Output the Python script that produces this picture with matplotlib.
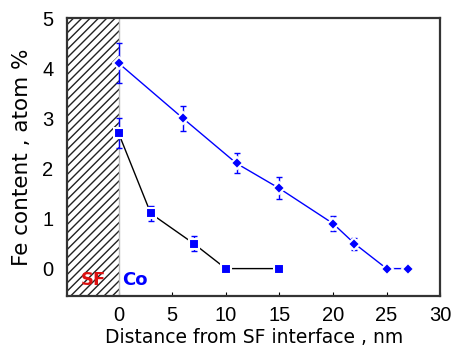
import matplotlib.pyplot as plt
from matplotlib.patches import Rectangle

plt.rcParams['font.family'] = ['DejaVu Sans']
plt.rcParams['hatch.linewidth'] = 1.0

# upper profile (blue line)
x1 = [0, 6, 11, 15, 20, 22, 25, 27]
y1 = [4.1, 3.0, 2.1, 1.6, 0.9, 0.5, 0.0, 0.0]
e1 = [0.4, 0.25, 0.2, 0.22, 0.15, 0.12, 0, 0]

# lower profile (black line)
x2 = [0, 3, 7, 10, 15]
y2 = [2.7, 1.1, 0.5, 0.0, 0.0]
e2 = [0.3, 0.15, 0.15, 0, 0]

fig = plt.figure(figsize=(4.51, 3.48), dpi=100)
ax = fig.add_axes([0.149, 0.149, 0.827, 0.799])

ax.add_patch(Rectangle((-4.8, -0.55), 4.8, 5.55, facecolor='white',
                       edgecolor='#222222', hatch='////', lw=0))
ax.axvline(0, color='#bbbbbb', lw=1)

# lines
ax.plot(x1, y1, color='blue', lw=1, zorder=2)
ax.plot(x2, y2, color='black', lw=1, zorder=2)
# error bars
ax.errorbar(x1, y1, yerr=e1, color='blue', ls='none', capsize=2,
            elinewidth=1, zorder=3)
ax.errorbar(x2, y2, yerr=e2, color='blue', ls='none', capsize=2,
            elinewidth=1, zorder=3)
# markers with white halo so lines look broken near them
ax.plot(x1, y1, ls='none', marker='D', ms=6.5, mfc='blue',
        mec='white', mew=1.5, zorder=4)
ax.plot(x2, y2, ls='none', marker='s', ms=7, mfc='blue',
        mec='white', mew=1.5, zorder=4)

ax.text(-3.5, -0.32, 'SF', color='#dd1111', fontsize=13, fontweight='bold')
ax.text(0.3, -0.32, 'Co', color='blue', fontsize=13, fontweight='bold')

ax.set_xlim(-4.8, 30)
ax.set_ylim(-0.55, 5)
ax.set_xticks([0, 5, 10, 15, 20, 25, 30])
ax.set_yticks([0, 1, 2, 3, 4, 5])
ax.tick_params(axis='x', direction='in', length=3, pad=7)
ax.tick_params(axis='y', length=0, pad=10)
for lab in ax.get_xticklabels() + ax.get_yticklabels():
    lab.set_family(['Liberation Sans', 'DejaVu Sans'])
    lab.set_fontsize(14.5)
for s in ax.spines.values():
    s.set_color('#333333')
    s.set_linewidth(1.6)

ax.set_xlabel('Distance from SF interface , nm', fontsize=13.5, labelpad=2)
ax.set_ylabel('Fe content , atom %', fontsize=15.5, labelpad=7)

fig.savefig('out.png', dpi=100)
